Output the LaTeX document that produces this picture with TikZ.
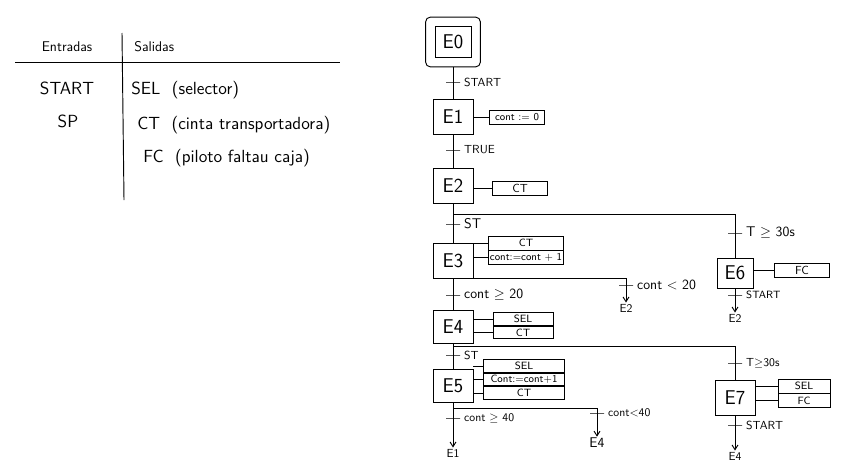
\documentclass[tikz,border=0pt]{standalone}
\usetikzlibrary{arrows.meta, positioning, fit}

\begin{document}
\begin{tikzpicture}[
    x=0.03cm, y=-0.03cm,
    node distance=2pt and 2pt,
    stepbox/.style={rectangle, draw=black, line width=0.8pt, minimum width=1.2cm, minimum height=1.06cm, inner sep=1pt, font=\sffamily\fontsize{17}{19}\selectfont},
    act/.style={rectangle, draw=black, line width=0.7pt, minimum width=1.65cm, minimum height=0.42cm, inner sep=1pt, font=\sffamily\small},
    trans/.style={draw=black, line width=0.8pt, minimum width=0.42cm, minimum height=0pt, inner sep=0pt},
    tlab/.style={inner sep=1pt, font=\sffamily\normalsize},
    jump/.style={inner sep=1pt, font=\sffamily\normalsize},
    tab/.style={inner sep=1pt, font=\sffamily\fontsize{15}{17}\selectfont},
    line/.style={line width=0.8pt},
    arrow/.style={-{Straight Barb[length=4pt, width=5pt]}, line width=0.8pt}
]
\useasboundingbox (0,0) rectangle (848,475);

% Table of inputs / outputs
\node[tab, font=\sffamily\large] (hin) at (67,47) {Entradas};
\node[tab, font=\sffamily\large, anchor=west] (hout) at (133,47) {Salidas};
\draw[line] (15,62) -- (340,62);
\draw[line] (122,33) -- (124,200);
\node[tab] (in1) at (67,88) {START};
\node[tab] (in2) at (68,121) {SP};
\node[tab, anchor=west] (out1) at (130,90) {SEL \ (selector)};
\node[tab, anchor=west] (out2) at (136,125) {CT \ (cinta transportadora)};
\node[tab, anchor=west] (out3) at (142,158) {FC \ (piloto faltau caja)};

% Initial step and E1
\node[stepbox, minimum width=1.08cm, minimum height=0.93cm] (e0) at (453,42) {E0};
\node[draw, line width=0.8pt, rounded corners=4pt, inner sep=7.6pt, fit=(e0)] (e0out) {};
\node[trans] (t01) at (453,82) {};
\node[tlab, right=of t01] (l01) {START};
\node[stepbox] (e1) at (453,117) {E1};
\node[act] (a1) at (517,117) {cont := 0};
\draw[line] (e0out) -- (t01) -- (e1);
\draw[line] (e1) -- (a1);

% E2
\node[trans] (t12) at (453,150) {};
\node[tlab, right=of t12] (l12) {TRUE};
\node[stepbox] (e2) at (453,186) {E2};
\node[act, font=\sffamily\normalsize] (a2) at (520,188) {CT};
\draw[line] (e1) -- (t12) -- (e2);
\draw[line] (e2.east |- a2) -- (a2);

% Branch after E2
\coordinate (b2) at (453,214);
\node[trans] (t23) at (453,224) {};
\node[tlab, right=of t23, font=\sffamily\large] (l23) {ST};
\node[trans] (t26) at (735,233) {};
\node[tlab, right=of t26, font=\sffamily\large] (l26) {T $\geq$ 30s};

% E3
\node[stepbox] (e3) at (453,261) {E3};
\node[act, minimum width=2.25cm] (a3a) at (526,243) {CT};
\node[act, minimum width=2.25cm, below=0pt of a3a] (a3b) {cont:=cont + 1};
\draw[line] (e2) -- (t23) -- (e3);
\draw[line] (b2) -| (t26);
\draw[line] (e3.east |- a3a) -- (a3a);
\draw[line] (e3.east |- a3b) -- (a3b);

% E6
\node[stepbox, minimum width=1.08cm, minimum height=0.9cm] (e6) at (735,273) {E6};
\node[act, font=\sffamily\normalsize] (a6) at (802,270) {FC};
\node[trans] (t62) at (735,295) {};
\node[tlab, right=of t62, font=\sffamily\small] (l62) {START};
\node[jump] (j62) at (735,318) {E2};
\draw[line] (t26) -- (e6);
\draw[line] (e6.east |- a6) -- (a6);
\draw[arrow] (e6) -- (t62) -- (j62);

% Branch after E3
\coordinate (b3) at (453,278);
\node[trans] (t34) at (453,295) {};
\node[tlab, right=of t34, font=\sffamily\large] (l34) {cont $\geq$ 20};
\node[trans] (t32) at (626,285) {};
\node[tlab, right=of t32, font=\sffamily\large] (l32) {cont $<$ 20};
\node[jump] (j32) at (626,308) {E2};
\draw[line] (b3) -| (t32);
\draw[arrow] (t32) -- (j32);

% E4
\node[stepbox, minimum height=1.0cm] (e4) at (453,327) {E4};
\node[act, minimum width=1.8cm, minimum height=0.38cm] (a4a) at (523,319) {SEL};
\node[act, minimum width=1.8cm, minimum height=0.38cm, below=0pt of a4a] (a4b) {CT};
\draw[line] (e3) -- (t34) -- (e4);
\draw[line] (e4.east |- a4a) -- (a4a);
\draw[line] (e4.east |- a4b) -- (a4b);

% Branch after E4
\coordinate (b4) at (453,346);
\node[trans] (t45) at (453,355) {};
\node[tlab, right=of t45] (l45) {ST};
\node[trans] (t47) at (735,363) {};
\node[tlab, right=of t47] (l47) {T$\geq$30s};

% E5
\node[stepbox, minimum height=0.98cm] (e5) at (453,386) {E5};
\node[act, minimum width=2.45cm, minimum height=0.38cm] (a5a) at (524,366) {SEL};
\node[act, minimum width=2.45cm, minimum height=0.38cm, below=0pt of a5a] (a5b) {Cont:=cont+1};
\node[act, minimum width=2.45cm, minimum height=0.38cm, below=0pt of a5b] (a5c) {CT};
\draw[line] (e4) -- (t45) -- (e5);
\draw[line] (b4) -| (t47);
\draw[line] (e5.east |- a5a) -- (a5a);
\draw[line] (e5.east |- a5b) -- (a5b);
\draw[line] (e5.east |- a5c) -- (a5c);

% E7
\node[stepbox] (e7) at (735,398) {E7};
\node[act, minimum width=1.56cm] (a7a) at (804,386) {SEL};
\node[act, minimum width=1.56cm, below=0pt of a7a] (a7b) {FC};
\node[trans] (t74) at (735,425) {};
\node[tlab, right=of t74] (l74) {START};
\node[jump] (j74) at (735,456) {E4};
\draw[line] (t47) -- (e7);
\draw[line] (e7.east |- a7a) -- (a7a);
\draw[line] (e7.east |- a7b) -- (a7b);
\draw[arrow] (e7) -- (t74) -- (j74);

% Branch after E5
\coordinate (b5) at (453,408);
\node[trans] (t51) at (453,418) {};
\node[tlab, right=of t51] (l51) {cont $\geq$ 40};
\node[jump] (j51) at (453,453) {E1};
\node[trans] (t54) at (597,413) {};
\node[tlab, right=of t54] (l54) {cont$<$40};
\node[jump, font=\sffamily\large] (j54) at (597,443) {E4};
\draw[arrow] (e5) -- (t51) -- (j51);
\draw[line] (b5) -| (t54);
\draw[arrow] (t54) -- (j54);

\end{tikzpicture}
\end{document}
